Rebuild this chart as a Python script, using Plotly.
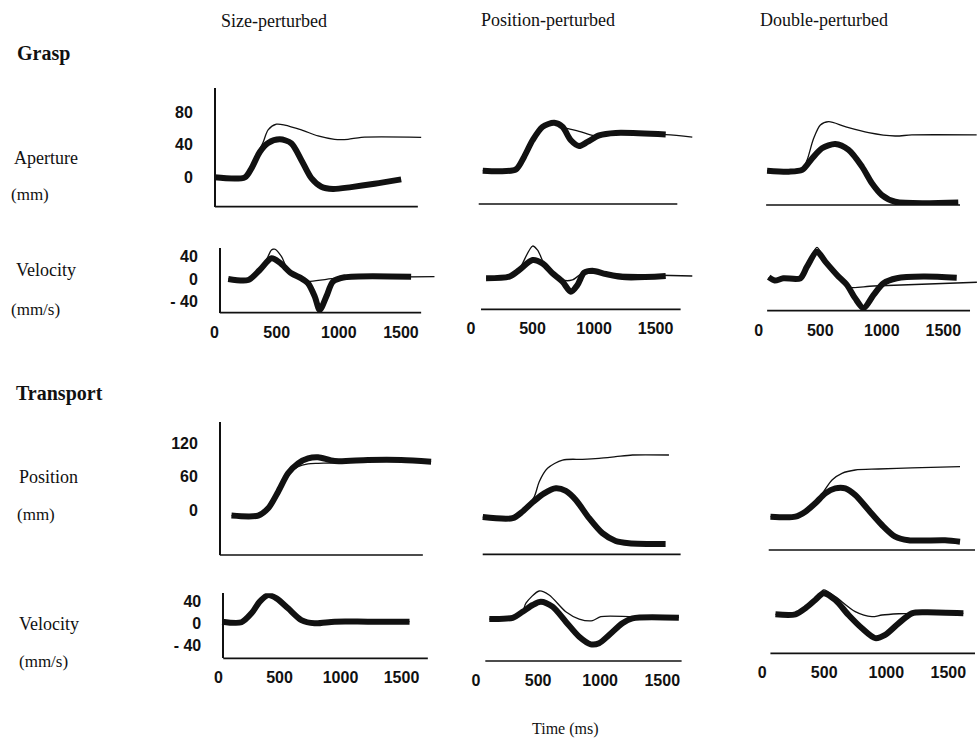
import plotly.graph_objects as go

# ---------------- data (time in ms, values in mm or mm/s) ----------------
# Grasp aperture
size_ap_thin_t = [0, 244, 297, 350, 391, 431, 498, 565, 699, 833, 966, 1074, 1181, 1663]
size_ap_thin_v = [0, 0, 11, 30, 43, 58, 65, 64, 58, 50.6, 46.5, 46.5, 49, 49]
size_ap_thick_t = [0, 244, 297, 364, 431, 525, 618, 699, 779, 859, 953, 1100, 1288, 1502]
size_ap_thick_v = [0, 0, 11, 31, 42, 46.5, 41.6, 21, -1, -11.5, -14.3, -12, -8, -2.5]

pos_ap_thin_t = [95, 230, 365, 432, 500, 581, 676, 743, 770, 878, 987, 1041, 1176, 1582, 1798]
pos_ap_thin_v = [4.8, 4, 6.4, 22, 42, 58.5, 63.4, 58.5, 57, 53, 48, 48, 51, 49, 46]
pos_ap_thick_t = [95, 230, 365, 432, 500, 581, 676, 743, 811, 878, 946, 1041, 1176, 1582]
pos_ap_thick_v = [4.8, 4, 6.4, 22, 42, 58.5, 63.4, 58.5, 42, 35, 40, 48, 51, 49]

dbl_ap_thin_t = [67, 241, 349, 389, 442, 496, 563, 696, 884, 1098, 1232, 1754]
dbl_ap_thin_v = [6, 4.8, 6.9, 19, 45.6, 62, 66, 60, 52.7, 48.5, 49.8, 49.8]
dbl_ap_thick_t = [67, 241, 349, 429, 509, 616, 723, 831, 911, 991, 1098, 1606]
dbl_ap_thick_v = [6, 4.8, 6.9, 21, 33.5, 38.7, 31.4, 11, -9.4, -23.8, -32, -33]

# Grasp velocity
size_gv_thin_t = [110, 271, 364, 420, 458, 485, 538, 592, 699, 752, 966, 1770]
size_gv_thin_v = [0, -1.8, 16, 35, 51.6, 53, 40, 16, -1.8, -4.7, 1, 4]
size_gv_thick_t = [110, 271, 364, 458, 525, 618, 699, 752, 806, 846, 900, 953, 1047, 1582]
size_gv_thick_v = [0, -1.8, 16, 36.7, 29, 10, 1, -7.7, -31, -55, -31, -4.7, 3, 4]

pos_gv_thin_t = [122, 311, 392, 419, 500, 541, 608, 743, 824, 905, 987, 1095, 1798]
pos_gv_thin_v = [-1, 2, 13.7, 25.5, 56.3, 49, 19.5, -4, -4, 7.8, 7.8, 6.6, 3]
pos_gv_thick_t = [122, 311, 392, 500, 581, 662, 743, 811, 865, 919, 987, 1095, 1257, 1582]
pos_gv_thick_v = [-1, 2, 13.7, 31.5, 25.5, 7.8, -7, -24.9, -13, 8.9, 12.4, 6.6, 0.7, 3]

dbl_gv_thin_t = [81, 130, 200, 338, 392, 440, 474, 541, 636, 717, 743, 933, 1773]
dbl_gv_thin_v = [2, -4, 0, 0, 20.6, 45, 55, 32, 5.9, -10, -16, -13.7, -7]
dbl_gv_thick_t = [81, 130, 200, 338, 392, 474, 541, 636, 717, 784, 852, 933, 1014, 1122, 1338, 1609]
dbl_gv_thick_v = [2, -4, 0, 0, 20.6, 47, 29.6, 5.9, -11.9, -35.6, -53, -29.6, -8.9, 0, 3, 1]

# Transport position
size_tp_thin_t = [106, 325, 407, 489, 570, 652, 734, 816, 952, 1050, 1225, 1498, 1743]
size_tp_thin_v = [-10, -10, 3, 33, 64, 78, 83, 84, 85, 88, 90, 90, 87]
size_tp_thick_t = [106, 325, 407, 489, 570, 652, 734, 816, 952, 1225, 1498, 1743]
size_tp_thick_v = [-10, -10, 3, 33, 66, 84, 93, 95, 88, 90, 90, 87]

pos_tp_thin_t = [54, 295, 375, 469, 509, 576, 697, 858, 991, 1125, 1260, 1554]
pos_tp_thin_v = [-14, -16, -4, 22.7, 49.7, 73.8, 88.7, 90, 91.8, 94.7, 97.7, 97.7]
pos_tp_thick_t = [54, 295, 375, 456, 549, 643, 723, 804, 911, 1018, 1125, 1232, 1527]
pos_tp_thick_v = [-14, -16, -4, 12.6, 28.8, 37.8, 33, 16.7, -16, -43, -57, -61, -62.5]

dbl_tp_thin_t = [67, 268, 348, 428, 495, 563, 643, 750, 937, 1206, 1594]
dbl_tp_thin_v = [-21, -21, -12, 3, 24, 45, 57, 63, 64.8, 67, 69]
dbl_tp_thick_t = [67, 268, 348, 428, 509, 589, 670, 750, 857, 965, 1072, 1179, 1474, 1594]
dbl_tp_thick_v = [-21, -21, -12, 3, 21, 30, 30, 18, -9, -36, -57, -63.5, -63.5, -66]

# Transport velocity
size_tv_thin_t = [30, 188, 270, 338, 407, 475, 570, 679, 788, 952, 1225, 1566]
size_tv_thin_v = [3, 2, 18.5, 40, 52, 46, 27.7, 6, 0, 3, 3, 3]
size_tv_thick_t = [30, 188, 270, 338, 407, 475, 570, 679, 788, 952, 1225, 1566]
size_tv_thick_v = [3, 2, 18.5, 40, 52, 46, 27.7, 6, 0, 3, 3, 3]

pos_tv_thin_t = [107, 295, 375, 402, 509, 589, 723, 831, 938, 1005, 1260, 1634]
pos_tv_thin_v = [-1.3, 1, 12, 28, 50.4, 43, 12.2, -1.3, -4.4, 3, 3, 2]
pos_tv_thick_t = [107, 295, 375, 456, 522, 616, 723, 831, 924, 991, 1072, 1179, 1260, 1634]
pos_tv_thick_v = [-1.3, 1, 12, 24.6, 30.7, 21.5, -6.2, -34, -48, -46, -30.8, -9, 0, 1]

dbl_tv_thin_t = [107, 268, 348, 428, 495, 589, 750, 884, 965, 1099, 1206, 1313, 1621]
dbl_tv_thin_v = [0, 0, 11, 26.4, 45, 32.6, 4.8, -4.4, -1.3, 1, 1.8, 3.7, 1.8]
dbl_tv_thick_t = [107, 268, 348, 428, 495, 589, 696, 804, 911, 991, 1099, 1206, 1313, 1621]
dbl_tv_thick_v = [0, 0, 11, 26.4, 38.8, 26.4, -1.3, -25.8, -44, -38, -16.6, 1.8, 3.7, 1.8]

column_titles = ["Size-perturbed", "Position-perturbed", "Double-perturbed"]
time_ticks = [0, 500, 1000, 1500]
aperture_ticks = [0, 40, 80]
velocity_ticks = [-40, 0, 40]
velocity_ticktext = ["- 40", "0", "40"]
position_ticks = [0, 60, 120]

series = {
    "A1": (size_ap_thin_t, size_ap_thin_v, size_ap_thick_t, size_ap_thick_v),
    "B1": (size_gv_thin_t, size_gv_thin_v, size_gv_thick_t, size_gv_thick_v),
    "A2": (pos_ap_thin_t, pos_ap_thin_v, pos_ap_thick_t, pos_ap_thick_v),
    "B2": (pos_gv_thin_t, pos_gv_thin_v, pos_gv_thick_t, pos_gv_thick_v),
    "A3": (dbl_ap_thin_t, dbl_ap_thin_v, dbl_ap_thick_t, dbl_ap_thick_v),
    "B3": (dbl_gv_thin_t, dbl_gv_thin_v, dbl_gv_thick_t, dbl_gv_thick_v),
    "C1": (size_tp_thin_t, size_tp_thin_v, size_tp_thick_t, size_tp_thick_v),
    "D1": (size_tv_thin_t, size_tv_thin_v, size_tv_thick_t, size_tv_thick_v),
    "C2": (pos_tp_thin_t, pos_tp_thin_v, pos_tp_thick_t, pos_tp_thick_v),
    "D2": (pos_tv_thin_t, pos_tv_thin_v, pos_tv_thick_t, pos_tv_thick_v),
    "C3": (dbl_tp_thin_t, dbl_tp_thin_v, dbl_tp_thick_t, dbl_tp_thick_v),
    "D3": (dbl_tv_thin_t, dbl_tv_thin_v, dbl_tv_thick_t, dbl_tv_thick_v),
}

# ---------------- layout geometry (pixels) ----------------
W, H = 977, 739
geom = {
    "A1": dict(x0=213, sx=0.1245, L=213, R=421, B=206.7, ylo=-36, yhi=109.3, r=0.8167,
               ax=(213.3, 416.7), yat=213.3, yt=aperture_ticks, ytt=None, xl=False),
    "B1": dict(x0=213, sx=0.1245, L=211, R=434, B=312.7, ylo=-60, yhi=54.6, r=0.5625,
               ax=(218.3, 420), yat=218.3, yt=velocity_ticks, ytt=velocity_ticktext, xl=True),
    "A2": dict(x0=470, sx=0.1233, L=468, R=693, B=204, ylo=-36, yhi=109.3, r=0.8167,
               ax=(477.7, 676.7), yat=None, xl=False),
    "B2": dict(x0=470, sx=0.1233, L=468, R=693, B=309.3, ylo=-56.2, yhi=58.4, r=0.5625,
               ax=(480, 680), yat=None, xl=True),
    "A3": dict(x0=758.3, sx=0.1245, L=756, R=977, B=205, ylo=-36, yhi=109.3, r=0.8167,
               ax=(765.7, 960), yat=None, xl=False),
    "B3": dict(x0=758.3, sx=0.1233, L=756, R=977, B=310.7, ylo=-57.6, yhi=57, r=0.5625,
               ax=(766.7, 970), yat=None, xl=True),
    "C1": dict(x0=217, sx=0.1222, L=215, R=433, B=555, ylo=-81, yhi=159, r=0.5556,
               ax=(218.3, 421.7), yat=218.3, yt=position_ticks, ytt=None, xl=False),
    "D1": dict(x0=217, sx=0.1222, L=215, R=428, B=658.3, ylo=-64.6, yhi=55.4, r=0.5417,
               ax=(221.7, 426.7), yat=221.7, yt=velocity_ticks, ytt=velocity_ticktext, xl=True),
    "C2": dict(x0=475, sx=0.1244, L=473, R=682, B=554.3, ylo=-81, yhi=159, r=0.5556,
               ax=(481.7, 680), yat=None, xl=False),
    "D2": dict(x0=475, sx=0.1244, L=473, R=683, B=661, ylo=-78.8, yhi=55, r=0.5417,
               ax=(484.3, 681), yat=None, xl=True),
    "C3": dict(x0=761.7, sx=0.1244, L=759, R=977, B=550, ylo=-81, yhi=159, r=0.5556,
               ax=(768.3, 975), yat=None, xl=False),
    "D3": dict(x0=761.7, sx=0.1244, L=759, R=977, B=653.3, ylo=-72, yhi=55, r=0.5417,
               ax=(770, 975), yat=None, xl=True),
}

INK = "#111111"
tickfont = dict(family="Liberation Sans", size=16, color=INK, weight="bold")
serif = "Liberation Serif"

fig = go.Figure()
layout = {}
shapes = []
for i, (key, g) in enumerate(geom.items(), start=1):
    sfx = "" if i == 1 else str(i)
    xref, yref = "x" + sfx, "y" + sfx
    xr = [(g["L"] - g["x0"]) / g["sx"], (g["R"] - g["x0"]) / g["sx"]]
    top = g["B"] - (g["yhi"] - g["ylo"]) * g["r"]
    layout["xaxis" + sfx] = dict(
        domain=[g["L"] / W, min(g["R"] / W, 1.0)], range=xr, anchor=yref,
        showgrid=False, zeroline=False, showline=False, ticks="",
        showticklabels=g["xl"], tickvals=time_ticks, tickfont=tickfont,
        ticklabelstandoff=8, fixedrange=True)
    ya = dict(domain=[1 - g["B"] / H, 1 - top / H], range=[g["ylo"], g["yhi"]],
              showgrid=False, zeroline=False, fixedrange=True)
    if g["yat"] is not None:
        ya.update(anchor="free", position=g["yat"] / W, showline=True,
                  linecolor=INK, linewidth=1.6, ticks="", tickvals=g["yt"],
                  tickfont=tickfont, ticklabelstandoff=18)
        if g["ytt"] is not None:
            ya["ticktext"] = g["ytt"]
    else:
        ya.update(anchor=xref, visible=False)
    layout["yaxis" + sfx] = ya
    shapes.append(dict(type="line", xref=xref, yref=yref + " domain",
                       x0=(g["ax"][0] - g["x0"]) / g["sx"], x1=(g["ax"][1] - g["x0"]) / g["sx"],
                       y0=0, y1=0, line=dict(color=INK, width=1.7)))
    tt, tv, kt, kv = series[key]
    fig.add_trace(go.Scatter(x=tt, y=tv, mode="lines", xaxis=xref, yaxis=yref,
                             line=dict(color=INK, width=1.3, shape="spline", smoothing=0.8),
                             showlegend=False, hoverinfo="skip"))
    fig.add_trace(go.Scatter(x=kt, y=kv, mode="lines", xaxis=xref, yaxis=yref,
                             line=dict(color=INK, width=6, shape="spline", smoothing=0.8),
                             showlegend=False, hoverinfo="skip"))

def ann(text, px, py, size=18, xanchor="left", bold=False):
    return dict(text=f"<b>{text}</b>" if bold else text, x=px / W, y=1 - py / H,
                xref="paper", yref="paper", xanchor=xanchor, yanchor="middle",
                showarrow=False, font=dict(family=serif, size=size, color=INK))

annotations = [
    ann(column_titles[0], 272.5, 21, 18, "center"),
    ann(column_titles[1], 546.7, 20, 18, "center"),
    ann(column_titles[2], 824, 20, 18, "center"),
    ann("Grasp", 13, 53, 20, bold=True),
    ann("Transport", 12, 393, 20, bold=True),
    ann("Aperture", 10, 158, 18),
    ann("(mm)", 7, 194, 17),
    ann("Velocity", 12, 270, 18),
    ann("(mm/s)", 7, 309, 17),
    ann("Position", 15, 477, 18),
    ann("(mm)", 13, 514, 17),
    ann("Velocity", 15, 624, 18),
    ann("(mm/s)", 15, 661, 17),
    ann("Time (ms)", 565, 729, 16, "center"),
]

fig.update_layout(width=W, height=H, margin=dict(l=0, r=0, t=0, b=0),
                  paper_bgcolor="white", plot_bgcolor="white",
                  shapes=shapes, annotations=annotations, **layout)
fig.write_html("out.html")
